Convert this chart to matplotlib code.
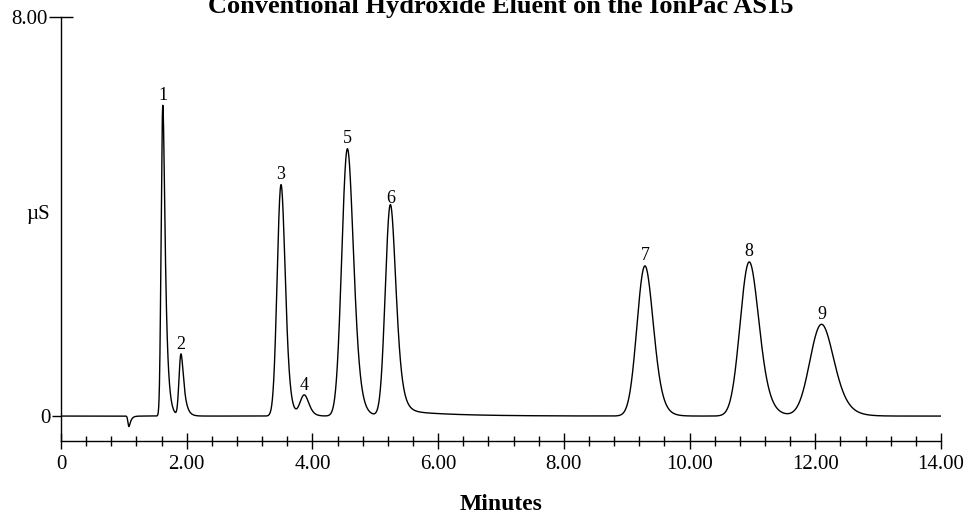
"""Chromatogram: conventional hydroxide eluent on the IonPac AS15."""
import matplotlib
matplotlib.use("Agg")
import matplotlib.pyplot as plt
import numpy as np
from matplotlib.ticker import MultipleLocator, FixedLocator

# peak table (minutes, uS) plus shape (gauss sigma, exp tail tau)
peak_labels = ["1", "2", "3", "4", "5", "6", "7", "8", "9"]
peak_times = [1.62, 1.91, 3.50, 3.87, 4.555, 5.24, 9.29, 10.95, 12.10]
peak_heights = [6.23, 1.24, 4.64, 0.42, 5.36, 4.15, 3.01, 3.09, 1.84]
peak_sigmas = [0.021, 0.025, 0.055, 0.06, 0.08, 0.07, 0.115, 0.13, 0.165]
peak_taus = [0.04, 0.045, 0.045, 0.05, 0.065, 0.065, 0.08, 0.10, 0.13]

# system dip near the void
dip_time = 1.08
dip_depth = -0.21
dip_sigma = 0.012
dip_tau = 0.03

# slow baseline drift that trails peak 6
drift_time = 5.35
drift_height = 0.11
drift_sigma = 0.1
drift_tau = 0.75

x_ticks = [0, 2, 4, 6, 8, 10, 12, 14]
x_ticklabels = ["0", "2.00", "4.00", "6.00", "8.00", "10.00", "12.00", "14.00"]

DT = 0.002
t = np.arange(0, 14 + DT / 2, DT)


def emg(rt, height, sigma, tau):
    g = np.exp(-0.5 * ((t - rt) / sigma) ** 2)
    k = np.exp(-np.arange(0, 10 * tau, DT) / tau)
    y = np.convolve(g, k)[: len(t)]
    y /= y.max()
    shift = int(np.argmax(y)) - int(round(rt / DT))
    y = np.roll(y, -shift)
    return height * y


signal = emg(dip_time, dip_depth, dip_sigma, dip_tau)
signal += emg(drift_time, drift_height, drift_sigma, drift_tau)
for rt, h, s, tau in zip(peak_times, peak_heights, peak_sigmas, peak_taus):
    signal += emg(rt, h, s, tau)

plt.rcParams["font.family"] = ["Liberation Serif", "DejaVu Serif"]

fig = plt.figure(figsize=(9.69, 5.14), dpi=100)
ax = fig.add_axes([61 / 969, 73 / 514, 880 / 969, 424 / 514])

ax.plot(t, signal, color="black", linewidth=1.0)
ax.set_xlim(0, 14)
ax.set_ylim(-0.5, 8.0)

for sp in ("top", "right"):
    ax.spines[sp].set_visible(False)
for sp in ("left", "bottom"):
    ax.spines[sp].set_linewidth(1.0)
    ax.spines[sp].set_color("black")

ax.set_xticks(x_ticks)
ax.set_xticklabels(x_ticklabels)
ax.xaxis.set_minor_locator(MultipleLocator(0.4))
ax.tick_params(axis="x", which="major", direction="inout", length=12,
               width=1.0, labelsize=15, pad=4)
ax.tick_params(axis="x", which="minor", direction="inout", length=7,
               width=1.0)

ax.set_yticks([0])
ax.set_yticklabels(["0"])
ax.yaxis.set_minor_locator(FixedLocator([8.0]))
ax.yaxis.set_minor_formatter(lambda v, p: "8.00")
ax.tick_params(axis="y", which="major", direction="out", length=6.5,
               width=1.0, labelsize=15, pad=1)
ax.tick_params(axis="y", which="minor", direction="inout", length=17,
               width=1.0, labelsize=15, pad=1)

for lab, rt, h in zip(peak_labels, peak_times, peak_heights):
    ax.annotate(lab, (rt, h), textcoords="offset points", xytext=(0, 4),
                ha="center", va="baseline", fontsize=13)

ax.text(-0.026, 4.05, "µS", transform=ax.get_yaxis_transform(),
        ha="center", va="center", fontsize=15)

fig.text(501 / 969, (514 - 13) / 514,
         "Conventional Hydroxide Eluent on the IonPac AS15",
         ha="center", va="baseline", fontsize=19, fontweight="bold")
fig.text(501 / 969, (514 - 510.5) / 514, "Minutes",
         ha="center", va="baseline", fontsize=17, fontweight="bold")

fig.savefig("out.png", dpi=100)
